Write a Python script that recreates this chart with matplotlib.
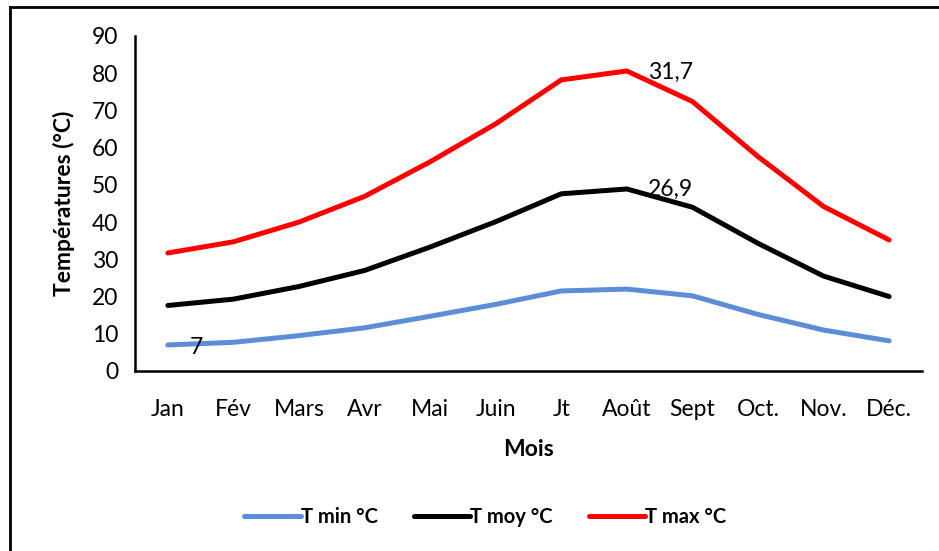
import matplotlib
matplotlib.use("Agg")
import matplotlib.pyplot as plt
from matplotlib.lines import Line2D
import numpy as np

plt.rcParams['font.family'] = ['Lato', 'DejaVu Sans']

months = ["Jan", "Fév", "Mars", "Avr", "Mai", "Juin", "Jt", "Août", "Sept", "Oct.", "Nov.", "Déc."]
t_min = [7.0, 7.7, 9.5, 11.6, 14.7, 17.9, 21.5, 22.0, 20.2, 15.2, 11.0, 8.1]
t_moy = [10.6, 11.6, 13.2, 15.4, 18.6, 22.2, 26.1, 26.9, 23.8, 19.1, 14.5, 11.9]
t_max = [14.1, 15.4, 17.3, 19.9, 22.9, 26.3, 30.6, 31.7, 28.4, 23.3, 18.7, 15.2]
series_names = ["T min °C", "T moy °C", "T max °C"]
colors = ["#5B8ED6", "#000000", "#FF0000"]

fig = plt.figure(figsize=(9.39, 5.51), dpi=100)
ax = fig.add_axes([0.1438, 0.3267, 0.838, 0.608])

x = np.arange(len(months))
s1 = np.array(t_min)
s2 = s1 + np.array(t_moy)
s3 = s2 + np.array(t_max)
stacked = [s1, s2, s3]
for ys, c, n in zip(stacked, colors, series_names):
    ax.plot(x, ys, color=c, lw=3.6, solid_capstyle='round', solid_joinstyle='round', label=n)

# data labels
ax.annotate("7", (0, s1[0]), xytext=(16, -2), textcoords='offset points', fontsize=16.5, va='center', ha='left')
ax.annotate("26,9", (7, s2[7]), xytext=(15, 0), textcoords='offset points', fontsize=16.5, va='center', ha='left')
ax.annotate("31,7", (7, s3[7]), xytext=(15, -1), textcoords='offset points', fontsize=16.5, va='center', ha='left')

ax.set_xlim(-0.5, len(months) - 0.5)
ax.set_ylim(0, 90)
ax.set_yticks(np.arange(0, 91, 10))
ax.set_xticks(x)
ax.set_xticklabels(months)
ax.tick_params(axis='both', length=0, labelsize=16.5)
ax.tick_params(axis='x', pad=20)
ax.tick_params(axis='y', pad=12)
for sp in ['top', 'right']:
    ax.spines[sp].set_visible(False)
for sp in ['left', 'bottom']:
    ax.spines[sp].set_linewidth(1.8)
    ax.spines[sp].set_color('black')

ax.set_xlabel("Mois", fontsize=16.5, fontweight='bold', labelpad=14)
ax.set_ylabel("Températures (°C)", fontsize=16.5, fontweight='bold', labelpad=12)

handles = [Line2D([0], [0], color=c, lw=3.6, solid_capstyle='round') for c in colors]
fig.legend(handles, series_names, loc='center', bbox_to_anchor=(0.517, 0.062), ncol=3,
           frameon=False, prop={'weight': 'bold', 'size': 14.5}, handlelength=2.8,
           handletextpad=0.0, columnspacing=1.8)

# chart border (left and top visible)
fig.add_artist(Line2D([10/939, 10/939], [0, 1 - 7/551], color='black', lw=2, transform=fig.transFigure))
fig.add_artist(Line2D([10/939, 1], [1 - 7/551, 1 - 7/551], color='black', lw=2, transform=fig.transFigure))

fig.savefig("out.png", dpi=100)
